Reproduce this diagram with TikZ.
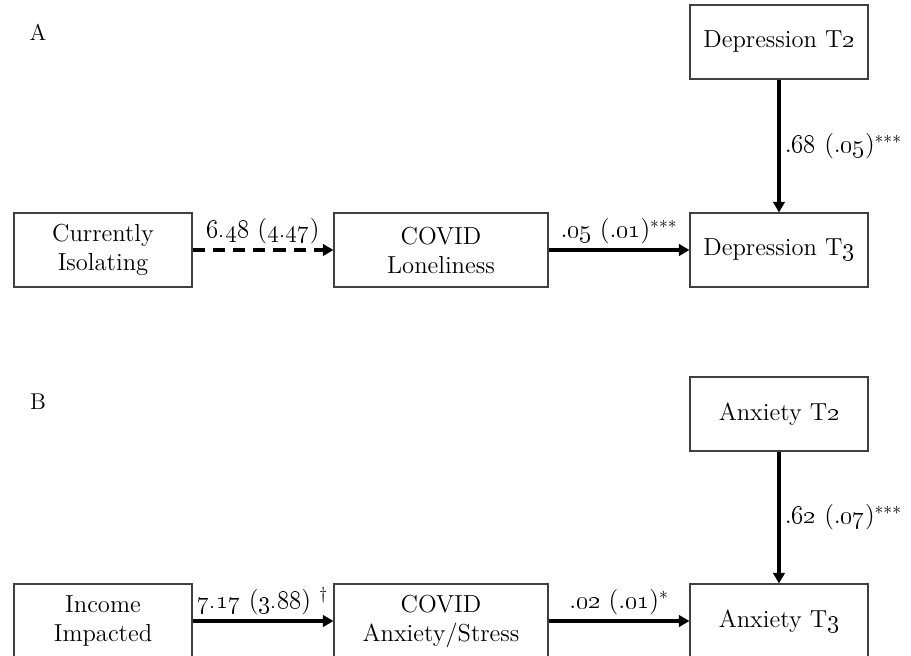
\documentclass[tikz,border=0pt]{standalone}
\usetikzlibrary{positioning, arrows.meta}
\newcommand{\os}[1]{\oldstylenums{#1}}
\tikzset{
	node distance=2.82cm,
	>={Triangle[length=6pt,width=6.5pt]},
	var/.style={draw=black!75, line width=0.6pt, minimum width=3.56cm, minimum height=1.48cm, align=center, inner sep=0pt, font=\fontsize{14}{16.5}\selectfont},
	wide/.style={minimum width=4.28cm},
	effect/.style={->, line width=1.8pt},
	coef/.style={inner sep=2.5pt, font=\fontsize{14.5}{16}\selectfont},
	panel/.style={font=\fontsize{13}{15}\selectfont}}

\begin{document}
\begin{tikzpicture}[x=0.02cm, y=-0.02cm]
	\clip (0,0) rectangle (911,655);
	\useasboundingbox (0,0) rectangle (911,655);

	% panel A
	\node[panel] (labA) at (38,32) {A};
	\node[var] (iso) at (103,250) {Currently\\Isolating};
	\node[var, wide, right=of iso] (lone) {COVID\\Loneliness};
	\node[var, right=of lone] (dep3) {Depression T\os{3}};
	\node[var, above=2.66cm of dep3] (dep2) {Depression T\os{2}};

	\draw[effect, dash pattern=on 7pt off 4.5pt] (iso) -- node[above, coef] {\os{6.48} (\os{4.47})} (lone);
	\draw[effect] (lone) -- node[above, coef] {.\os{05} (.\os{01})$^{***}$} (dep3);
	\draw[effect] (dep2) -- node[right, coef] {.\os{68} (.\os{05})$^{***}$} (dep3);

	% panel B
	\node[panel] (labB) at (38,402) {B};
	\node[var] (inc) at (103,621) {Income\\Impacted};
	\node[var, wide, right=of inc] (stress) {COVID\\Anxiety/Stress};
	\node[var, right=of stress] (anx3) {Anxiety T\os{3}};
	\node[var, above=2.64cm of anx3] (anx2) {Anxiety T\os{2}};

	\draw[effect] (inc) -- node[above, coef] {\os{7.17} (\os{3.88}) $^{\dagger}$} (stress);
	\draw[effect] (stress) -- node[above, coef] {.\os{02} (.\os{01})$^{*}$} (anx3);
	\draw[effect] (anx2) -- node[right, coef] {.\os{62} (.\os{07})$^{***}$} (anx3);
\end{tikzpicture}
\end{document}
